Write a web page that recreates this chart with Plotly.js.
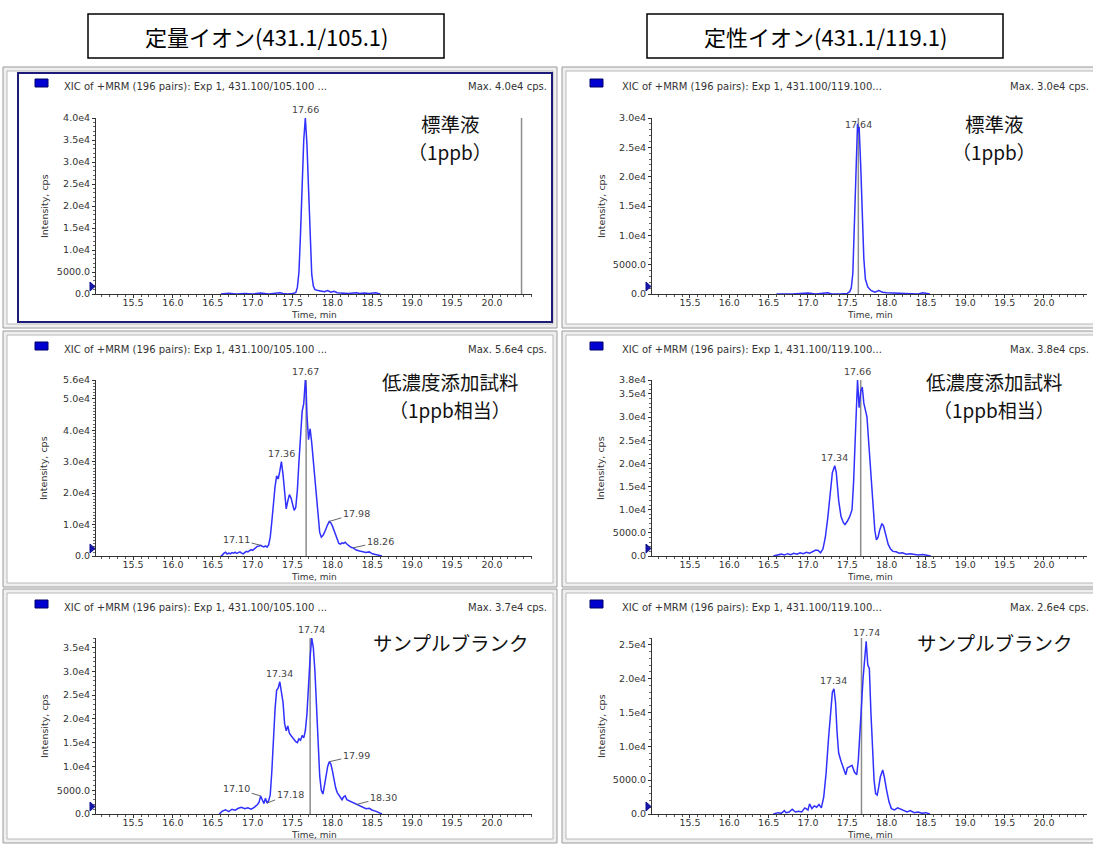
<!DOCTYPE html>
<html><head><meta charset="utf-8">
<script src="https://cdn.plot.ly/plotly-3.0.1.min.js"></script>
<style>html,body{margin:0;padding:0;background:#fff;}#chart{width:1093px;height:844px;}</style>
</head><body><div id="chart"></div>
<script>
// ---------------- DATA ----------------
const headerTitles = ['定量イオン(431.1/105.1)', '定性イオン(431.1/119.1)'];
const sampleNames = [['標準液', '（1ppb）'], ['低濃度添加試料', '（1ppb相当）'], ['サンプルブランク', null]];
const xicTitles = ['XIC of +MRM (196 pairs): Exp 1, 431.100/105.100 ...', 'XIC of +MRM (196 pairs): Exp 1, 431.100/119.100...'];
const maxLabels = ['Max. 4.0e4 cps.', 'Max. 3.0e4 cps.', 'Max. 5.6e4 cps.', 'Max. 3.8e4 cps.', 'Max. 3.7e4 cps.', 'Max. 2.6e4 cps.'];
const maxIntensity = [40000, 30000, 56000, 38000, 37000, 26000];
const xTickVals = [15.5, 16.0, 16.5, 17.0, 17.5, 18.0, 18.5, 19.0, 19.5, 20.0];
const xTickText = ['15.5', '16.0', '16.5', '17.0', '17.5', '18.0', '18.5', '19.0', '19.5', '20.0'];
const yTicksStdQuant = [0, 5000, 10000, 15000, 20000, 25000, 30000, 35000, 40000];
const yTextStdQuant = ['0.0', '5000.0', '1.0e4', '1.5e4', '2.0e4', '2.5e4', '3.0e4', '3.5e4', '4.0e4'];
const yTicksStdQual = [0, 5000, 10000, 15000, 20000, 25000, 30000];
const yTextStdQual = ['0.0', '5000.0', '1.0e4', '1.5e4', '2.0e4', '2.5e4', '3.0e4'];
const yTicksLowQuant = [0, 10000, 20000, 30000, 40000, 50000, 56000];
const yTextLowQuant = ['0.0', '1.0e4', '2.0e4', '3.0e4', '4.0e4', '5.0e4', '5.6e4'];
const yTicksLowQual = [0, 5000, 10000, 15000, 20000, 25000, 30000, 35000, 38000];
const yTextLowQual = ['0.0', '5000.0', '1.0e4', '1.5e4', '2.0e4', '2.5e4', '3.0e4', '3.5e4', '3.8e4'];
const yTicksBlankQuant = [0, 5000, 10000, 15000, 20000, 25000, 30000, 35000];
const yTextBlankQuant = ['0.0', '5000.0', '1.0e4', '1.5e4', '2.0e4', '2.5e4', '3.0e4', '3.5e4'];
const yTicksBlankQual = [0, 5000, 10000, 15000, 20000, 25000];
const yTextBlankQual = ['0.0', '5000.0', '1.0e4', '1.5e4', '2.0e4', '2.5e4'];

// retention-time cursor lines (min)
const cursorTimes = [20.37, 17.64, 17.67, 17.67, 17.72, 17.68];

// Standard 1 ppb, quantifier 431.1/105.1
const timeStdQuant = [16.60,16.70,16.80,16.90,17.00,17.10,17.20,17.30,17.34,17.38,17.44,17.50,17.54,17.56,17.58,17.60,17.62,17.64,17.66,17.68,17.70,17.72,17.74,17.76,17.78,17.82,17.86,17.90,17.94,17.98,18.02,18.06,18.10,18.20,18.30,18.34,18.40,18.46,18.54,18.60];
const intStdQuant = [0,150,0,100,0,200,0,150,300,100,0,100,300,1500,5000,14000,26000,35000,40000,34000,24000,12000,4500,1800,1000,800,700,500,800,400,600,300,200,100,300,100,250,100,300,0];

// Standard 1 ppb, qualifier 431.1/119.1
const timeStdQual = [16.60,16.80,17.00,17.10,17.25,17.30,17.40,17.50,17.53,17.55,17.57,17.59,17.61,17.63,17.64,17.65,17.67,17.69,17.71,17.73,17.76,17.80,17.85,17.90,17.95,18.00,18.10,18.20,18.30,18.40,18.46,18.55];
const intStdQual = [0,0,150,0,200,0,0,100,400,1000,3500,11000,21000,29000,27500,28500,22000,13000,6000,2500,1200,600,300,600,300,200,150,100,150,0,200,0];

// Low-level spiked sample, quantifier
const timeLowQuant = [16.60,16.62,16.64,16.66,16.68,16.70,16.72,16.74,16.76,16.78,16.80,16.82,16.84,16.86,16.88,16.90,16.92,16.94,16.96,16.98,17.00,17.02,17.04,17.06,17.08,17.10,17.12,17.14,17.16,17.18,17.20,17.22,17.24,17.26,17.28,17.30,17.32,17.34,17.36,17.38,17.40,17.42,17.44,17.46,17.48,17.50,17.52,17.54,17.56,17.58,17.60,17.62,17.64,17.66,17.67,17.68,17.70,17.72,17.74,17.76,17.78,17.80,17.82,17.84,17.86,17.88,17.90,17.92,17.94,17.96,17.98,18.00,18.02,18.04,18.06,18.08,18.10,18.12,18.14,18.16,18.18,18.20,18.22,18.24,18.26,18.28,18.30,18.34,18.38,18.42,18.46,18.50,18.54,18.58,18.62];
const intLowQuant = [0,300,900,1200,600,900,700,1100,900,1200,800,1000,1300,900,700,1100,1500,1300,1700,2000,1800,2300,2800,3100,3200,3400,3100,2900,3200,2800,3500,6000,11000,17000,22000,25500,24500,27000,30000,26000,21000,15000,17500,19500,18500,16000,14500,15500,21000,30000,40000,46000,48500,56000,53000,45000,37000,40500,36000,30000,24000,17000,11000,7500,6000,6500,7500,9000,10000,11000,10500,9500,8000,6500,5000,4000,3800,4200,4000,4400,3800,3300,3000,2700,2600,2200,1900,1600,1300,1100,1300,700,500,200,0];

// Low-level spiked sample, qualifier
const timeLowQual = [16.56,16.62,16.66,16.70,16.74,16.78,16.82,16.86,16.90,16.94,16.98,17.02,17.06,17.10,17.13,17.16,17.19,17.22,17.25,17.28,17.31,17.34,17.36,17.39,17.42,17.45,17.47,17.50,17.53,17.56,17.58,17.60,17.62,17.63,17.65,17.67,17.69,17.71,17.73,17.75,17.77,17.79,17.81,17.83,17.85,17.87,17.89,17.91,17.94,17.96,17.99,18.02,18.05,18.08,18.12,18.16,18.20,18.25,18.30,18.35,18.40,18.46,18.52,18.56];
const intLowQual = [0,200,400,200,500,300,600,400,700,500,800,600,900,1300,1200,700,1500,4000,8000,13500,18000,19500,18000,12000,8500,7200,6800,7500,8500,10000,16000,25000,33000,38000,32000,35500,36500,33000,31500,30000,25000,20000,14000,9000,5500,3500,4000,5500,7000,6500,4500,2500,1500,1000,900,600,700,400,500,300,200,300,100,0];

// Sample blank, quantifier
const timeBlankQuant = [16.58,16.62,16.66,16.70,16.74,16.78,16.82,16.86,16.90,16.94,16.98,17.02,17.06,17.08,17.10,17.12,17.14,17.16,17.18,17.20,17.22,17.24,17.26,17.28,17.30,17.32,17.34,17.36,17.38,17.40,17.42,17.44,17.46,17.48,17.50,17.52,17.54,17.56,17.58,17.60,17.62,17.64,17.66,17.68,17.70,17.72,17.74,17.76,17.78,17.80,17.82,17.84,17.86,17.88,17.90,17.92,17.94,17.96,17.98,18.00,18.02,18.04,18.06,18.08,18.10,18.12,18.14,18.16,18.18,18.22,18.26,18.30,18.34,18.38,18.42,18.46,18.50,18.54,18.58,18.62];
const intBlankQuant = [0,600,900,500,1000,800,1200,1400,1100,1300,1000,1400,2000,2500,3800,3000,2200,3300,2300,2800,4000,9000,16000,22000,26000,26500,27800,26000,23500,19000,17500,18500,17000,16500,16000,15500,15200,15000,15800,15500,16500,16000,17500,21000,28000,33000,37000,35000,30000,22000,14000,8000,5000,4200,6000,8000,10000,11000,10500,9000,7000,5500,4500,4000,3500,3000,3600,3800,3000,2700,2300,2000,1700,1400,1100,1200,800,600,300,0];

// Sample blank, qualifier
const timeBlankQual = [16.56,16.62,16.66,16.70,16.72,16.76,16.80,16.84,16.88,16.92,16.96,17.00,17.02,17.05,17.08,17.11,17.14,17.17,17.20,17.23,17.26,17.29,17.31,17.33,17.35,17.37,17.39,17.42,17.45,17.48,17.50,17.53,17.56,17.59,17.62,17.64,17.66,17.68,17.70,17.72,17.74,17.76,17.78,17.80,17.82,17.84,17.86,17.88,17.90,17.92,17.95,17.97,18.00,18.03,18.06,18.10,18.14,18.18,18.22,18.26,18.30,18.35,18.40,18.45,18.50,18.55];
const intBlankQual = [0,200,100,500,200,300,700,300,400,300,900,600,1500,800,1200,1000,1400,900,2500,6000,11000,15500,18000,18500,16500,12000,9000,7800,6800,5800,6800,7000,7200,6200,5800,8000,13000,16000,20000,22500,25500,22000,21500,15000,9000,5000,3000,2800,4000,5500,6500,5500,3500,1800,800,600,900,700,400,300,500,200,300,100,200,0];

// peak retention-time labels: [label text, time]
const peaksStdQuant = [['17.66', 17.66]];
const peaksStdQual = [['17.64', 17.64]];
const peaksLowQuant = [['17.67', 17.66], ['17.36', 17.36], ['17.11', 17.10], ['17.98', 17.96], ['18.26', 18.26]];
const peaksLowQual = [['17.66', 17.63], ['17.34', 17.34]];
const peaksBlankQuant = [['17.74', 17.74], ['17.34', 17.34], ['17.10', 17.10], ['17.18', 17.18], ['17.99', 17.96], ['18.30', 18.30]];
const peaksBlankQual = [['17.74', 17.74], ['17.34', 17.33]];

// ---------------- BUILD ----------------
const W = 1093, H = 844;
const px = x => x / W, py = y => 1 - y / H;
const TXT = 'DejaVu Sans, Liberation Sans, Arial, sans-serif';
const JP = 'Noto Sans CJK JP, sans-serif';

const COLS = [
  {ax0: 96, ax1: 532, range: [15.036, 20.501], f0: 3, f1: 557, sq: 35, xic: 62, maxR: 549, ytitle: 44, lab: 450},
  {ax0: 652, ax1: 1087, range: [15.017, 20.547], f0: 562, f1: 1100, sq: 590, xic: 620, maxR: 1091, ytitle: 601, lab: 994}
];
const ROWS = [
  {top: 118, bot: 294, f0: 67, f1: 328, xic: 86, lab1: 124, lab2: 152},
  {top: 380, bot: 556, f0: 331, f1: 587, xic: 349, lab1: 382, lab2: 410},
  {top: 638, bot: 814, f0: 589, f1: 843, xic: 607, lab1: 642, lab2: null}
];

const panels = [
  {t: timeStdQuant, v: intStdQuant, tv: yTicksStdQuant, tt: yTextStdQuant, peaks: peaksStdQuant},
  {t: timeStdQual, v: intStdQual, tv: yTicksStdQual, tt: yTextStdQual, peaks: peaksStdQual},
  {t: timeLowQuant, v: intLowQuant, tv: yTicksLowQuant, tt: yTextLowQuant, peaks: peaksLowQuant},
  {t: timeLowQual, v: intLowQual, tv: yTicksLowQual, tt: yTextLowQual, peaks: peaksLowQual},
  {t: timeBlankQuant, v: intBlankQuant, tv: yTicksBlankQuant, tt: yTextBlankQuant, peaks: peaksBlankQuant},
  {t: timeBlankQual, v: intBlankQual, tv: yTicksBlankQual, tt: yTextBlankQual, peaks: peaksBlankQual}
];

// leader offsets for labels that are not directly above their peak
const leaderOffsets = {
  '2:17.11': [-24, -6], '2:17.98': [27, -8], '2:18.26': [27, -6],
  '4:17.10': [-24, -7], '4:17.18': [23, -9], '4:17.99': [27, -6], '4:18.30': [27, -7]
};

const traces = [], shapes = [], annotations = [];
const layout = {
  width: W, height: H, margin: {l: 0, r: 0, t: 0, b: 0},
  paper_bgcolor: '#ffffff', plot_bgcolor: 'rgba(0,0,0,0)', showlegend: false,
  font: {family: TXT, size: 10, color: '#333'}
};

// header boxes
headerTitles.forEach((h, c) => {
  const cx = c === 0 ? 266 : 825;
  shapes.push({type: 'rect', xref: 'paper', yref: 'paper', x0: px(cx - 178), x1: px(cx + 178), y0: py(58), y1: py(14),
    line: {color: '#000', width: 1.5}, fillcolor: '#fff', layer: 'below'});
  annotations.push({xref: 'paper', yref: 'paper', x: px(cx), y: py(36), text: h, showarrow: false,
    xanchor: 'center', yanchor: 'middle', font: {family: JP, size: 22, color: '#000'}});
});

panels.forEach((p, i) => {
  const r = ROWS[Math.floor(i / 2)], c = COLS[i % 2];
  const xa = i === 0 ? 'xaxis' : 'xaxis' + (i + 1), ya = i === 0 ? 'yaxis' : 'yaxis' + (i + 1);
  const xr = i === 0 ? 'x' : 'x' + (i + 1), yr = i === 0 ? 'y' : 'y' + (i + 1);

  // frames
  shapes.push({type: 'rect', xref: 'paper', yref: 'paper', x0: px(c.f0), x1: px(c.f1), y0: py(r.f1), y1: py(r.f0),
    line: {color: '#9a9a9a', width: 1}, fillcolor: '#efefef', layer: 'below'});
  shapes.push({type: 'rect', xref: 'paper', yref: 'paper', x0: px(c.f0 + 4), x1: px(c.f1 - 4), y0: py(r.f1 - 4), y1: py(r.f0 + 4),
    line: {color: '#b8b8b8', width: 1}, fillcolor: '#ffffff', layer: 'below'});
  if (i === 0) {
    shapes.push({type: 'rect', xref: 'paper', yref: 'paper', x0: px(18), x1: px(552), y0: py(322), y1: py(73),
      line: {color: '#1c1c78', width: 2}, fillcolor: 'rgba(0,0,0,0)', layer: 'below'});
  }
  // legend square
  shapes.push({type: 'rect', xref: 'paper', yref: 'paper', x0: px(c.sq), x1: px(c.sq + 13), y0: py(r.xic + 1), y1: py(r.xic - 7),
    line: {color: '#00006a', width: 1}, fillcolor: '#0000d0'});
  // left triangle marker
  const tx = c.ax0, ty = r.bot;
  shapes.push({type: 'path', xref: 'paper', yref: 'paper',
    path: `M ${px(tx - 6)} ${py(ty - 12)} L ${px(tx - 1)} ${py(ty - 7.5)} L ${px(tx - 6)} ${py(ty - 3)} Z`,
    line: {color: '#10108a', width: 1}, fillcolor: '#1515b0'});
  // cursor line
  shapes.push({type: 'line', xref: xr, yref: yr + ' domain', x0: cursorTimes[i], x1: cursorTimes[i], y0: 0, y1: 1,
    line: {color: '#8c8c8c', width: 1.5}, layer: 'below'});

  traces.push({type: 'scatter', mode: 'lines', x: p.t, y: p.v, xaxis: xr, yaxis: yr,
    line: {color: '#3030ff', width: 1.5}, hoverinfo: 'skip', cliponaxis: false});

  layout[xa] = {domain: [px(c.ax0), px(c.ax1)], range: c.range, anchor: yr, showline: true, linecolor: '#333', linewidth: 1,
    ticks: 'outside', ticklen: 3, tickcolor: '#333', tickmode: 'array', tickvals: xTickVals, ticktext: xTickText,
    tickfont: {family: TXT, size: 9.5, color: '#333'}, ticklabelstandoff: -3,
    minor: {tickmode: 'linear', tick0: 15, dtick: 0.1, ticks: 'outside', ticklen: 2, tickcolor: '#555'},
    showgrid: false, zeroline: false, fixedrange: true};
  layout[ya] = {domain: [py(r.bot), py(r.top)], range: [0, maxIntensity[i]], anchor: xr, showline: true, linecolor: '#333', linewidth: 1,
    ticks: 'outside', ticklen: 3, tickcolor: '#333', tickmode: 'array', tickvals: p.tv, ticktext: p.tt,
    tickfont: {family: TXT, size: 9.5, color: '#333'},
    minor: {tickmode: 'linear', tick0: 0, dtick: 1000, ticks: 'outside', ticklen: 2, tickcolor: '#666'},
    showgrid: false, zeroline: false, fixedrange: true};

  // texts
  annotations.push({xref: 'paper', yref: 'paper', x: px(c.xic), y: py(r.xic), text: xicTitles[i % 2], showarrow: false,
    xanchor: 'left', yanchor: 'middle', font: {family: TXT, size: 10, color: '#333'}});
  annotations.push({xref: 'paper', yref: 'paper', x: px(c.maxR), y: py(r.xic), text: maxLabels[i], showarrow: false,
    xanchor: 'right', yanchor: 'middle', font: {family: TXT, size: 10, color: '#333'}});
  annotations.push({xref: 'paper', yref: 'paper', x: px((c.ax0 + c.ax1) / 2), y: py(r.bot + 21), text: 'Time, min', showarrow: false,
    xanchor: 'center', yanchor: 'middle', font: {family: TXT, size: 9, color: '#333'}});
  annotations.push({xref: 'paper', yref: 'paper', x: px(c.ytitle), y: py((r.top + r.bot) / 2), text: 'Intensity, cps', showarrow: false,
    textangle: -90, xanchor: 'center', yanchor: 'middle', font: {family: TXT, size: 9.5, color: '#333'}});
  const nm = sampleNames[Math.floor(i / 2)];
  annotations.push({xref: 'paper', yref: 'paper', x: px(c.lab), y: py(r.lab1), text: nm[0], showarrow: false, borderpad: 0,
    xanchor: 'center', yanchor: 'middle', font: {family: JP, size: 19.5, color: '#111'}});
  if (nm[1]) annotations.push({xref: 'paper', yref: 'paper', x: px(c.lab), y: py(r.lab2), text: nm[1], showarrow: false, borderpad: 0,
    xanchor: 'center', yanchor: 'middle', font: {family: JP, size: 19, color: '#111'}});

  // peak labels
  p.peaks.forEach(([lbl, t]) => {
    let k = 0;
    p.t.forEach((tt, j) => { if (Math.abs(tt - t) < Math.abs(p.t[k] - t)) k = j; });
    const yv = p.v[k];
    const off = leaderOffsets[i + ':' + lbl];
    if (off) {
      annotations.push({xref: xr, yref: yr, x: t, y: yv, text: lbl, showarrow: true, arrowhead: 0, arrowwidth: 0.9,
        arrowcolor: '#555', ax: off[0], ay: off[1], standoff: 0, font: {family: TXT, size: 9.5, color: '#444'}});
    } else {
      annotations.push({xref: xr, yref: yr, x: t, y: yv, text: lbl, showarrow: false, yanchor: 'bottom', yshift: 1,
        font: {family: TXT, size: 9.5, color: '#444'}});
    }
  });
});

layout.shapes = shapes;
layout.annotations = annotations;
Plotly.newPlot('chart', traces, layout, {staticPlot: true, displayModeBar: false});
</script>
</body></html>
